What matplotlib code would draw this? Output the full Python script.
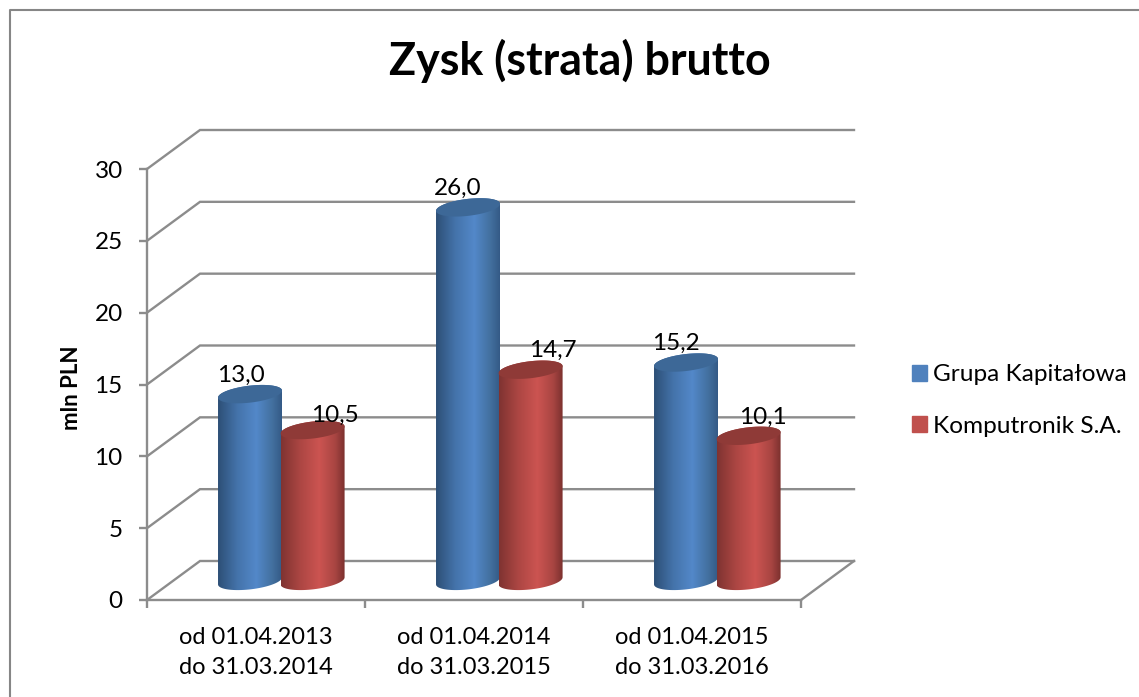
import numpy as np
import matplotlib
matplotlib.use("Agg")
import matplotlib.pyplot as plt
from matplotlib.colors import LinearSegmentedColormap
from matplotlib.patches import Patch, PathPatch
from matplotlib.path import Path

plt.rcParams['font.family'] = ['Lato', 'DejaVu Sans']

title = "Zysk (strata) brutto"
y_label = "mln PLN"
categories = ["od 01.04.2013\ndo 31.03.2014",
              "od 01.04.2014\ndo 31.03.2015",
              "od 01.04.2015\ndo 31.03.2016"]
series_names = ["Grupa Kapitałowa", "Komputronik S.A."]
grupa = [13.0, 26.0, 15.2]
komputronik = [10.5, 14.7, 10.1]
y_ticks = [0, 5, 10, 15, 20, 25, 30]

W, H = 1139, 697
GRID = "#8c8c8c"
LW = 1.7
fig = plt.figure(figsize=(W / 100, H / 100), dpi=100)
# front plane of the fake 3d box
ax = fig.add_axes([147 / W, (H - 600) / H, 654 / W, 431 / H])
ax.set_xlim(0, 3)
ax.set_ylim(0, 30)
ax.patch.set_alpha(0)

px_x = 654 / 3   # pixels per category
px_y = 431 / 30  # pixels per unit
DX = 53 / px_x
DY = 39 / px_y

# frame around the chart, cut by the picture on the right and bottom
fig.add_artist(plt.Line2D([10 / W, 10 / W, 1], [0, (H - 10) / H, (H - 10) / H],
                          color="#868686", lw=1.5))

# walls and floor
for v in y_ticks:
    ax.plot([0, DX, 3 + DX], [v, v + DY, v + DY], color=GRID, lw=LW,
            clip_on=False, zorder=1, solid_joinstyle="miter")
ax.plot([3 + DX, 3], [DY, 0], color=GRID, lw=LW, clip_on=False, zorder=1)


def cylinder(xc, value, cmap, top_color):
    a = 32 / px_x
    b = 8.5 / px_y
    k = 0.11 * px_x / px_y
    y0 = DY * 0.49
    y1 = y0 + value
    t = np.linspace(0, 2 * np.pi, 80)

    # body: lower half of base, then up and over the top ellipse
    t_low = np.linspace(np.pi, 2 * np.pi, 40)
    t_up = np.linspace(0, np.pi, 40)
    xs = np.concatenate([a * np.cos(t_low), a * np.cos(t_up)])
    ys = np.concatenate([y0 + b * np.sin(t_low) + k * a * np.cos(t_low),
                         y1 + b * np.sin(t_up) + k * a * np.cos(t_up)])
    body = PathPatch(Path(np.column_stack([xc + xs, ys])), transform=ax.transData,
                     fc="none", ec="none")
    ax.add_patch(body)
    grad = np.linspace(0, 1, 256).reshape(1, -1)
    im = ax.imshow(grad, extent=[xc - a, xc + a, y0 - 2, y1 + 2], cmap=cmap,
                   aspect="auto", zorder=3)
    im.set_clip_path(body)
    body.set_zorder(3)

    ex = xc + a * np.cos(t)
    ey = y1 + b * np.sin(t) + k * a * np.cos(t)
    ax.fill(ex, ey, color=top_color, zorder=3, lw=0)


blue_map = LinearSegmentedColormap.from_list(
    "blue3d", [(0, "#2d4f76"), (0.3, "#4473aa"), (0.6, "#5388c9"), (0.85, "#43709f"), (1, "#345a86")])
red_map = LinearSegmentedColormap.from_list(
    "red3d", [(0, "#7f3331"), (0.3, "#ac4643"), (0.6, "#cc5451"), (0.85, "#a84542"), (1, "#7b302e")])

blue_pos = [i + 0.351 for i in range(3)]
red_pos = [i + 0.638 for i in range(3)]
for i in range(3):
    cylinder(blue_pos[i] + DX / 2, grupa[i], blue_map, "#3d6897")
    cylinder(red_pos[i] + DX / 2, komputronik[i], red_map, "#8f3a37")

# data labels, moved by hand like in the source chart
blue_shift = [(-9, 19), (-10, 19), (-10, 19)]
red_shift = [(22, 15), (22, 19), (14, 18)]
for i in range(3):
    for pos, val, shift in ((blue_pos[i], grupa[i], blue_shift[i]),
                            (red_pos[i], komputronik[i], red_shift[i])):
        ax.annotate(f"{val:.1f}".replace(".", ","),
                    (pos + DX / 2, val + DY * 0.49), xytext=shift,
                    textcoords="offset pixels", ha="center", va="center",
                    fontsize=17.5, color="black", zorder=5, annotation_clip=False)

ax.spines["top"].set_visible(False)
ax.spines["right"].set_visible(False)
for s in ("left", "bottom"):
    ax.spines[s].set_color(GRID)
    ax.spines[s].set_linewidth(LW)
ax.set_yticks(y_ticks)
ax.set_xticks([0, 1, 2, 3])
ax.set_xticklabels([])
ax.set_xticks([0.5, 1.5, 2.5], minor=True)
ax.set_xticklabels(categories, minor=True, fontsize=17, linespacing=1.55)
ax.tick_params(axis="x", which="major", length=5.5, width=LW, color=GRID)
ax.tick_params(axis="x", which="minor", length=0, pad=19.5)
ax.tick_params(axis="y", length=5.5, width=LW, color=GRID, labelsize=17.5, pad=12)

fig.text(72 / W, (H - 388) / H, y_label, rotation=90, ha="center", va="center",
         fontsize=16, fontweight="bold")
fig.text(580 / W, (H - 61) / H, title, ha="center", va="center",
         fontsize=32.2, fontweight="bold")

handles = [Patch(color="#4f81bd"), Patch(color="#c0504d")]
fig.legend(handles, series_names, loc="upper left",
           bbox_to_anchor=(905 / W, (H - 357) / H), frameon=False, fontsize=17.6,
           handlelength=0.62, handleheight=0.62, handletextpad=0.24, labelspacing=1.25,
           borderpad=0.3, borderaxespad=0)

fig.savefig("out.png", dpi=100)
